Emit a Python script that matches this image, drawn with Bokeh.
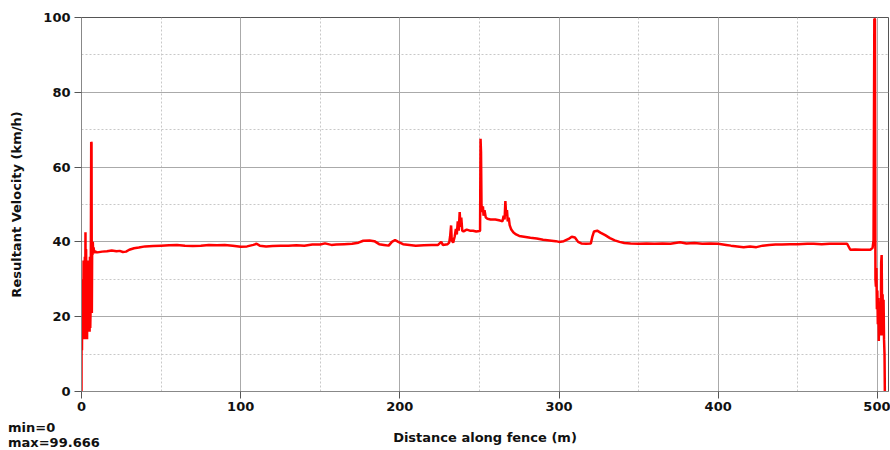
from bokeh.plotting import figure
from bokeh.models import Range1d, SingleIntervalTicker, Div
from bokeh.layouts import column
from bokeh.embed import file_html
from bokeh.resources import INLINE

# Distance along fence (m)
distance = [
    0, 0.05, 0.3, 0.5, 0.7, 0.9, 1.1, 1.3, 1.5, 1.7, 1.9, 2.1, 2.3, 2.5, 2.7, 2.9,
    3.1, 3.3, 3.5, 3.7, 3.9, 4.1, 4.3, 4.5, 4.7, 4.9, 5.1, 5.3, 5.5, 5.7, 5.9, 6.1,
    6.3, 6.5, 6.7, 6.9, 7.1, 7.3, 7.6, 8.0, 8.5, 9.5,
    10, 13, 16, 19, 22, 24, 26, 28, 30, 33, 36, 40, 45, 50, 55, 60, 65, 70, 75, 80,
    85, 90, 95, 100, 104, 108, 110, 112, 116, 120, 125, 130, 135, 140, 145, 150,
    153, 157, 160, 165, 170, 174, 177, 181, 184, 187, 190, 193, 195, 197, 199, 202,
    206, 210, 215, 220, 224, 226, 227, 230, 231, 231.6, 232.2, 232.6, 233.5, 234.5,
    235.2, 235.8, 236.4, 237, 237.6, 238.1, 238.6, 239.2, 240, 242, 244, 246, 248,
    250, 250.4, 250.7, 251.0, 251.3, 251.7, 252.2, 252.6, 253.2, 254, 255, 257, 260,
    263, 264.5, 265.2, 265.8, 266.3, 266.8, 267.3, 267.8, 268.4, 269, 270, 271.4,
    273, 275, 278, 282, 286, 290, 294, 298, 300, 303, 306, 308, 310, 312, 314, 317,
    320, 321, 322, 324, 326, 329, 332, 335, 338, 341, 345, 350, 355, 360, 365, 370,
    376, 380, 385, 390, 395, 400, 405, 408, 412, 416, 420, 424, 428, 432, 436, 440,
    445, 450, 456, 460, 465, 470, 475, 481, 483, 486, 490, 495.6, 497.0, 497.6,
    498.1, 498.5, 498.8, 499.1, 499.4, 499.7, 500.0, 500.3, 500.6, 500.9, 501.2,
    501.5, 501.8, 502.1, 502.4, 502.7, 503.0, 503.3, 503.6, 503.9, 504.2, 504.5,
    504.7,
]

# Resultant velocity (km/h)
velocity = [
    0, 25, 11, 30, 14, 24, 17, 35, 14, 27, 19, 36, 14, 42.6, 15, 38,
    18, 31, 14, 27, 19, 35, 16, 29, 17, 30, 16, 36, 17, 22, 40, 66.7,
    66.5, 21, 39, 36.5, 40, 37.5, 38.5, 37, 37.5, 37.2,
    37.2, 37.4, 37.5, 37.7, 37.5, 37.6, 37.3, 37.4, 37.9, 38.3, 38.5, 38.8, 38.9, 39.0, 39.1, 39.2, 39.0, 38.9, 39.0, 39.2,
    39.1, 39.2, 39.0, 38.7, 38.8, 39.2, 39.5, 39.0, 38.8, 38.9, 39.0, 39.0, 39.1, 39.0, 39.3, 39.3,
    39.6, 39.2, 39.3, 39.4, 39.5, 39.8, 40.3, 40.4, 40.2, 39.4, 39.2, 39.0, 40.0, 40.5, 40.0, 39.4,
    39.2, 39.0, 39.1, 39.2, 39.2, 40.0, 39.2, 39.4, 39.8, 41.5, 44.4, 40.5, 39.8, 41.5,
    43.5, 42.0, 45.5, 43.0, 48.0, 44.0, 46.5, 43.0, 42.8, 43.3, 43.0, 43.0, 42.8,
    42.9, 43.0, 67.6, 64.0, 50.0, 48.0, 49.5, 47.0, 48.5, 46.5, 46.2, 46.0, 46.0,
    45.7, 45.5, 47.0, 46.0, 50.9, 47.0, 48.5, 45.5, 46.5, 44.5, 43.3, 42.5,
    42.0, 41.6, 41.4, 41.1, 40.9, 40.6, 40.4, 40.2, 40.0, 40.2, 40.8, 41.4, 41.2, 40.0, 39.6, 39.5,
    39.6, 41.5, 42.8, 43.0, 42.5, 41.8, 41.0, 40.4, 40.0, 39.7, 39.6, 39.5, 39.6, 39.5, 39.6, 39.5,
    39.9, 39.6, 39.7, 39.5, 39.6, 39.5, 39.2, 39.0, 38.8, 38.6, 38.8, 38.6, 39.0, 39.2, 39.3, 39.3,
    39.4, 39.4, 39.5, 39.5, 39.4, 39.5, 39.5, 39.5, 37.9, 38.0, 37.9, 37.9, 38.4, 40.4,
    99.666, 99.5, 30, 28, 33, 22, 27, 18, 25, 13.5, 24,
    16, 22, 15, 34.5, 36.5, 20, 26, 15, 24.5, 14, 10,
    0,
]

x_ticks_interval = 100
y_ticks_interval = 20
stats = ["min=0", "max=99.666"]

p = figure(
    width=890, height=450,
    output_backend="svg", toolbar_location=None,
    x_range=Range1d(0, 507), y_range=Range1d(0, 100),
    min_border_left=81, min_border_right=2, min_border_top=17, min_border_bottom=59,
)
p.background_fill_color = "white"
p.border_fill_color = "white"
p.outline_line_color = "#555555"
p.outline_line_width = 1

p.line(distance, velocity, line_color="#ff0000", line_width=2.5)

p.xaxis.ticker = SingleIntervalTicker(interval=x_ticks_interval, num_minor_ticks=2)
p.yaxis.ticker = SingleIntervalTicker(interval=y_ticks_interval, num_minor_ticks=2)

for ax in (p.xaxis[0], p.yaxis[0]):
    ax.axis_line_color = "#888888"
    ax.major_tick_line_color = "#555555"
    ax.major_tick_out = 7
    ax.major_tick_in = 0
    ax.minor_tick_out = 0
    ax.minor_tick_in = 0
    ax.major_label_text_font = "DejaVu Sans"
    ax.major_label_text_font_style = "bold"
    ax.major_label_text_font_size = "13px"
    ax.major_label_text_color = "#111111"
    ax.axis_label_text_font = "DejaVu Sans"
    ax.axis_label_text_font_style = "bold"
    ax.axis_label_text_font_size = "13px"
    ax.axis_label_text_color = "#111111"

p.xaxis.axis_label = "Distance along fence (m)"
p.yaxis.axis_label = "Resultant Velocity (km/h)"
p.xaxis.major_label_standoff = 3
p.xaxis.axis_label_standoff = 16
p.yaxis.major_label_standoff = 4
p.yaxis.axis_label_standoff = 16

for g in (p.xgrid[0], p.ygrid[0]):
    g.grid_line_color = "#aaaaaa"
    g.grid_line_width = 1
    g.minor_grid_line_color = "#c8c8c8"
    g.minor_grid_line_dash = "2 2"
    g.minor_grid_line_width = 1

note = Div(
    text="<br>".join(stats),
    styles={
        "position": "absolute", "left": "8px", "top": "420px",
        "font-family": "DejaVu Sans", "font-weight": "bold", "font-size": "13px",
        "line-height": "15px", "color": "#111111", "z-index": "10",
        "margin": "0", "padding": "0",
    },
)

layout = column(p, note, spacing=0)
open("out.html", "w").write(file_html(layout, INLINE))
